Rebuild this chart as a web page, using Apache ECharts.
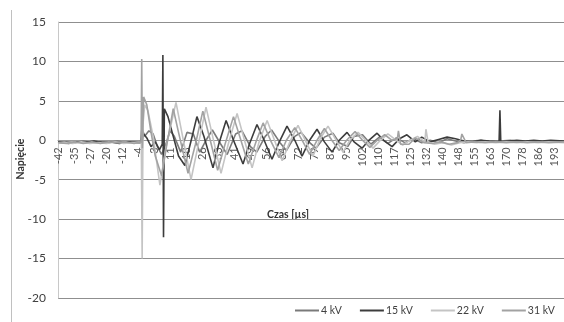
<!DOCTYPE html>
<html><head><meta charset="utf-8">
<script src="https://cdn.jsdelivr.net/npm/echarts@6/dist/echarts.min.js"></script>
<style>html,body{margin:0;padding:0;background:#fff}#c{width:564px;height:322px}</style>
</head><body><div id="c"></div>
<script>
// Tick labels of the category (time) axis, µs
const tickLabels = ['-42','-35','-27','-20','-12','-4','3','11','18','26','33','41','49','56','64','72','79','87','95','102','110','117','125','132','140','148','155','163','170','178','186','193'];
const tStart = -42;      // time at first tick label
const tStep = 7.58;      // µs between tick labels
const idxMax = 31.57;    // plot extends a little past the last label
const seriesNames = ['4 kV','15 kV','22 kV','31 kV'];
const seriesColors = ['#7a7a7a','#3c3c3c','#c4c4c4','#a2a2a2'];

// [time µs, voltage]
const v4kV = [[-42,-0.3],[-38,-0.2],[-34,-0.3],[-30,-0.1],[-26,-0.3],[-22,-0.2],[-18,-0.3],[-14,-0.1],[-10,-0.3],[-6,-0.2],[-3,-0.3],
  [-2.3,1.5],[-1,0.5],[1,1.2],[3,0.8],[5,-0.8],[7,-1.8],[9,-0.5],[11,1.2],[13,0.5],[16,-1.5],[19,1.0],[22,0.8],[25,-1.5],[28,0],[31,1.3],[35,-0.5],[38,-1.8],[42,0.8],[45,1.2],[49,-0.8],[52,-1.5],[56,0.5],[59,1.3],[63,-0.3],[66,-1.3],[70,0.5],[73,1.0],[77,-0.3],[80,-1.0],[84,0.4],[88,0.9],[91,-0.3],[95,-0.8],[98,0.5],[102,0.7],[106,-0.5],[110,0.4],[114,-0.4],[118,0.3],[122,-0.3],[126,0.2],[130,-0.3],[134,0],[138,-0.3],[142,0.2],[146,-0.1],[150,-0.3],[154,-0.1],[158,0],[162,-0.2],[167,-0.1],[172,0],[177,-0.2],[182,-0.1],[187,-0.2],[192,-0.1],[197.3,-0.2]];
const v15kV = [[-42,-0.2],[-37,-0.4],[-33,-0.2],[-29,-0.3],[-25,-0.1],[-21,-0.3],[-17,-0.2],[-13,-0.4],[-9,-0.2],[-5,-0.3],[-2.5,-0.3],
  [-1.5,0.8],[0,0.3],[2,-0.8],[4,-0.2],[6,-1.2],[7.3,-0.5],[7.6,10.8],[7.9,-12.3],[8.3,4.0],[10,3.0],[12,1.0],[15,-2],[18,-3.2],[21,0],[23.7,3.0],[27,0.5],[31.3,-3.5],[34,-0.5],[37.5,2.5],[41,0],[45.5,-3.0],[48.5,-0.5],[52.1,2.0],[55.5,0],[59.2,-2.4],[62.5,-0.3],[66.3,1.8],[70,0],[73.4,-2.0],[77,0],[80.5,1.4],[84,-0.2],[87.6,-1.5],[91,0],[94.7,1.0],[98,-0.2],[101.8,-1.0],[105,0],[108.9,0.9],[112,0],[116,-0.8],[119.5,0.2],[123,0.7],[127,-0.2],[130,0.4],[134,-0.2],[138,0.1],[142,0.4],[146,0.2],[150,-0.1],[154,-0.2],[158,0],[162,-0.1],[166.6,-0.2],[167,3.8],[167.4,-0.2],[171,-0.1],[175,0],[179,-0.1],[183,0],[187,-0.1],[191,0],[197.3,-0.1]];
const v22kV = [[-42,-0.4],[-39,-0.3],[-35,-0.4],[-31,-0.2],[-27,-0.4],[-23,-0.3],[-19,-0.4],[-15,-0.2],[-11,-0.4],[-7,-0.3],[-2.6,-0.3],
  [-2.2,-15],[-1.8,2],[-1.0,4.5],[0.5,3.8],[3,0.5],[6.2,-5.7],[9,-1],[13.8,4.8],[20.9,-5.0],[24,-1],[28,4.2],[35.1,-4.2],[38.5,-0.5],[42.7,3.4],[49.8,-3.5],[53,-0.3],[56.9,2.5],[64,-2.6],[67.5,-0.3],[71.5,1.9],[78.6,-2.0],[82,0.2],[85.7,1.8],[92.8,-1.5],[96,0],[99.9,1.0],[107,-1.0],[110.5,0],[114,0.8],[121,-0.6],[124.5,0],[128,0.5],[131.5,-0.2],[132,1.4],[133,-0.2],[136,-0.5],[140,-0.3],[144,-0.6],[148,-0.3],[152,-0.2],[156,-0.3],[160,-0.2],[165,-0.3],[170,-0.2],[175,-0.3],[180,-0.2],[185,-0.3],[190,-0.2],[197.3,-0.3]];
const v31kV = [[-42,-0.3],[-38,-0.4],[-34,-0.2],[-30,-0.4],[-26,-0.2],[-22,-0.4],[-18,-0.2],[-14,-0.3],[-10,-0.2],[-6,-0.4],[-2.7,-0.2],
  [-2.4,10.3],[-2.1,-1],[-1.5,5.5],[0,4.5],[2,1],[4,-2],[7,-4.5],[9.5,-0.5],[12.5,4.0],[15,1],[19.5,-4.2],[23,-0.5],[26.5,3.7],[30,0],[33.5,-3.8],[37,-0.5],[41,3.0],[44.5,0],[48,-3.0],[51.5,-0.3],[55,2.2],[58.5,0],[62.5,-2.2],[66,0],[70,1.6],[73.5,0],[77,-1.8],[80.5,0],[84,1.5],[87.5,0],[91,-1.3],[94.5,0],[98.5,1.1],[102,0],[105.5,-0.9],[109,0],[112.5,0.7],[116,0],[118.5,0.2],[119,1.2],[120,-0.5],[124,-0.5],[127,0.3],[131,-0.3],[135,-0.4],[139,-0.2],[143,-0.5],[147,-0.3],[148.5,0.1],[149,0.8],[151,-0.3],[155,-0.2],[160,-0.3],[165,-0.2],[170,-0.3],[175,-0.2],[180,-0.3],[185,-0.2],[190,-0.3],[197.3,-0.2]];
const seriesData = [v4kV, v15kV, v22kV, v31kV];

const yMin = -20, yMax = 15, yInterval = 5;
const FONT = 'Lato, "Open Sans", sans-serif';
const GRID_TOP = 22, GRID_BOTTOM = 24, CH = 322;
// the time axis crosses the voltage axis at 0: shift it up from the grid bottom
const plotH = CH - GRID_TOP - GRID_BOTTOM;
const zeroShift = plotH * (0 - yMin) / (yMax - yMin);

const chart = echarts.init(document.getElementById('c'), null, {renderer: 'canvas'});
chart.setOption({
  animation: false,
  backgroundColor: '#fff',
  grid: {left: 58, right: 0, top: GRID_TOP, bottom: GRID_BOTTOM, containLabel: false},
  xAxis: [
    {type: 'value', min: tStart, max: tStart + tStep * idxMax, show: false, position: 'top',
     axisLine: {onZero: false}},
    {type: 'value', min: 0, max: idxMax, interval: 1, position: 'bottom', offset: -zeroShift,
     axisLine: {show: true, onZero: false, lineStyle: {color: '#9a9a9a', width: 1}},
     axisTick: {show: false}, splitLine: {show: false},
     axisLabel: {rotate: 90, margin: 7, fontSize: 11, color: '#555', fontFamily: FONT,
       showMaxLabel: false,
       formatter: function (v) { const i = Math.round(v); return (Math.abs(v - i) < 1e-6 && tickLabels[i] !== undefined) ? tickLabels[i] : ''; }}}
  ],
  yAxis: {type: 'value', min: yMin, max: yMax, interval: yInterval,
    axisLine: {show: true, onZero: false, lineStyle: {color: '#c8c8c8', width: 1}},
    axisTick: {show: false},
    splitLine: {show: true, lineStyle: {color: '#8f8f8f', width: 1}},
    axisLabel: {margin: 12, fontSize: 12, color: '#404040', fontFamily: FONT}},
  legend: {left: 295, top: 305, padding: 0, itemGap: 18, itemWidth: 24, itemHeight: 2, icon: 'rect',
    textStyle: {fontSize: 10.5, color: '#404040', fontFamily: FONT, padding: [0, 0, 0, -3]},
    data: seriesNames},
  series: seriesNames.map((n, i) => ({
    name: n, type: 'line', xAxisIndex: 0, yAxisIndex: 0, data: seriesData[i],
    symbol: 'none', showSymbol: false, smooth: false,
    lineStyle: {width: 1.6, color: seriesColors[i]}, itemStyle: {color: seriesColors[i]}
  })),
  graphic: [
    {type: 'line', shape: {x1: 11.5, y1: 10, x2: 11.5, y2: 322}, style: {stroke: '#c0c0c0', lineWidth: 1}, silent: true},
    {type: 'text', x: 21, y: 159, rotation: Math.PI / 2,
     style: {text: 'Napięcie', fontSize: 10.5, fontWeight: 'bold', fontFamily: FONT, fill: '#333', textAlign: 'center', textVerticalAlign: 'middle'}},
    {type: 'text', x: 288, y: 215,
     style: {text: 'Czas [µs]', fontSize: 10.5, fontWeight: 'bold', fontFamily: FONT, fill: '#333', textAlign: 'center', textVerticalAlign: 'middle'}}
  ]
});
</script></body></html>
